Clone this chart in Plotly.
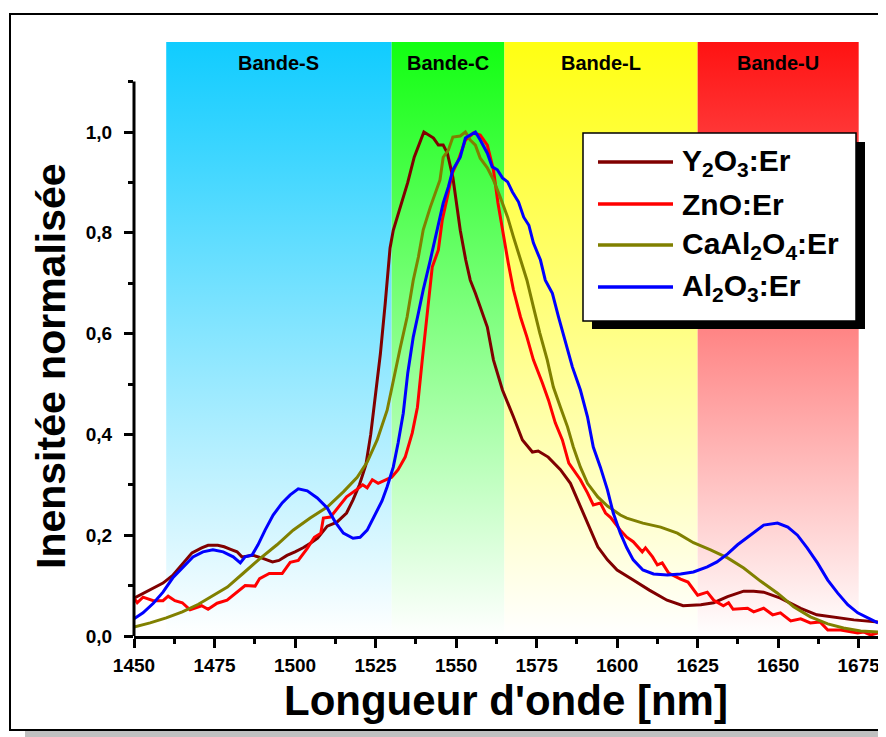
'''
Emission spectra of Er-doped hosts over the telecom bands
'''

import plotly.graph_objects as go

FONT = 'Liberation Sans, Arial, sans-serif'

# telecom bands (nm) and their colours
BAND_NAMES = ['Bande-S', 'Bande-C', 'Bande-L', 'Bande-U']
BAND_START = [1460, 1530, 1565, 1625]
BAND_END = [1530, 1565, 1625, 1675]
BAND_COLORS = ['#10CCFF', '#12FF12', '#FFFF12', '#FF1212']

SERIES_NAMES = ['Y<sub>2</sub>O<sub>3</sub>:Er', 'ZnO:Er', 'CaAl<sub>2</sub>O<sub>4</sub>:Er',
                'Al<sub>2</sub>O<sub>3</sub>:Er']
SERIES_COLORS = ['#800000', '#FF0000', '#808000', '#0000FF']

Y2O3_X = [1450, 1453, 1456, 1459, 1462, 1464, 1466, 1468, 1471, 1473, 1476, 1478, 1480, 1482, 1483.5,
          1485, 1487, 1490, 1493, 1495, 1497.5, 1500, 1502.5, 1505, 1507, 1510, 1513, 1516, 1518, 1520,
          1522, 1523.5, 1525, 1526.5, 1528, 1529.5, 1530.5, 1533, 1535, 1537, 1540, 1543, 1544.5, 1546,
          1547.3, 1549, 1550.4, 1551.3, 1553, 1554.4, 1556, 1557.5, 1559.7, 1561.6, 1564.4, 1567.8,
          1570.6, 1573.7, 1575.5, 1578.6, 1582.4, 1585.5, 1588.6, 1591.7, 1594, 1597, 1600, 1605, 1610,
          1615.5, 1620.5, 1626, 1630, 1634.3, 1639.3, 1642.4, 1645.5, 1650.7, 1657, 1662, 1667, 1673.5,
          1681]
Y2O3_Y = [0.075, 0.085, 0.095, 0.105, 0.12, 0.135, 0.15, 0.165, 0.175, 0.18, 0.18, 0.177, 0.172, 0.167,
          0.157, 0.158, 0.16, 0.154, 0.147, 0.15, 0.16, 0.167, 0.175, 0.185, 0.194, 0.218, 0.226, 0.244,
          0.27, 0.30, 0.34, 0.40, 0.48, 0.56, 0.66, 0.77, 0.805, 0.86, 0.90, 0.95, 1.0, 0.988, 0.974,
          0.974, 0.958, 0.91, 0.85, 0.805, 0.746, 0.706, 0.68, 0.653, 0.613, 0.548, 0.488, 0.435, 0.389,
          0.365, 0.367, 0.355, 0.33, 0.303, 0.256, 0.21, 0.177, 0.151, 0.131, 0.111, 0.091, 0.071, 0.06,
          0.062, 0.066, 0.078, 0.089, 0.089, 0.087, 0.075, 0.055, 0.042, 0.037, 0.032, 0.028]

ZNO_X = [1450, 1451, 1452.8, 1456, 1459, 1460.6, 1462.7, 1465, 1467.4, 1469.6, 1471, 1473, 1475.8,
         1478.9, 1482, 1484.5, 1487.6, 1489, 1492, 1496, 1498.5, 1501, 1503.8, 1506, 1508, 1508.8, 1511,
         1513, 1516, 1519, 1521, 1522.4, 1524, 1525.8, 1528.6, 1530, 1532, 1534.2, 1536.4, 1538, 1539.5,
         1541, 1542.6, 1544.5, 1545.7, 1547.3, 1548.8, 1550.7, 1552.9, 1555.4, 1557.5, 1559.7, 1561.6,
         1563, 1564.7, 1566.2, 1567.8, 1570, 1572, 1574, 1576.8, 1578.7, 1580.8, 1583, 1585, 1588.6,
         1590.8, 1592.6, 1594.8, 1596.4, 1598, 1601, 1603, 1605, 1607.8, 1608.8, 1611, 1612.5, 1614, 1616,
         1619.7, 1622, 1625, 1628, 1630, 1633, 1634.6, 1636, 1640.5, 1642.4, 1645.5, 1648.3, 1650.7,
         1653.9, 1657, 1660, 1663, 1665.4, 1669.4, 1674.7, 1676.5, 1678.7, 1681]
ZNO_Y = [0.075, 0.066, 0.077, 0.07, 0.07, 0.079, 0.07, 0.066, 0.052, 0.056, 0.06, 0.053, 0.065, 0.071,
         0.087, 0.1, 0.099, 0.114, 0.124, 0.124, 0.146, 0.15, 0.174, 0.196, 0.204, 0.234, 0.236, 0.252,
         0.276, 0.29, 0.30, 0.294, 0.31, 0.303, 0.31, 0.315, 0.33, 0.355, 0.403, 0.454, 0.548, 0.64,
         0.732, 0.766, 0.825, 0.871, 0.918, 0.944, 0.984, 0.998, 0.994, 0.974, 0.925, 0.859, 0.792,
         0.74, 0.687, 0.633, 0.593, 0.548, 0.502, 0.468, 0.423, 0.389, 0.343, 0.31, 0.284, 0.26, 0.264,
         0.244, 0.235, 0.21, 0.196, 0.187, 0.167, 0.175, 0.157, 0.141, 0.145, 0.125, 0.113, 0.107, 0.081,
         0.087, 0.071, 0.06, 0.066, 0.053, 0.055, 0.048, 0.055, 0.042, 0.046, 0.03, 0.034, 0.026, 0.028,
         0.012, 0.012, 0.006, 0.008, 0.002, 0.006]

CAAL2O4_X = [1450, 1455, 1460, 1465, 1470, 1474, 1479, 1484, 1489, 1494.4, 1499.4, 1504.7, 1510, 1515,
             1519.3, 1522.4, 1525.5, 1528.6, 1530.5, 1532.7, 1534.8, 1536.7, 1538.3, 1539.8, 1542,
             1543.5, 1545, 1546, 1547.6, 1549, 1551.3, 1552.9, 1554.4, 1556, 1557.5, 1559.7, 1561.6,
             1563.7, 1566, 1567.8, 1570, 1572, 1574, 1576, 1578.3, 1580.2, 1582.4, 1584.6, 1586.4,
             1588.6, 1590.8, 1594, 1597, 1601, 1603, 1608, 1613.5, 1618.7, 1623.7, 1629, 1634.3, 1639.3,
             1644.5, 1649.8, 1654.8, 1660, 1665.4, 1670.3, 1675.6, 1681]
CAAL2O4_Y = [0.018, 0.026, 0.036, 0.048, 0.063, 0.078, 0.097, 0.125, 0.153, 0.181, 0.21, 0.234, 0.256,
             0.286, 0.315, 0.345, 0.389, 0.448, 0.508, 0.573, 0.633, 0.706, 0.752, 0.806, 0.851, 0.879,
             0.905, 0.95, 0.964, 0.99, 0.992, 1.0, 0.984, 0.974, 0.948, 0.929, 0.905, 0.871, 0.831, 0.792,
             0.746, 0.706, 0.653, 0.601, 0.548, 0.494, 0.454, 0.415, 0.375, 0.335, 0.303, 0.276, 0.258,
             0.24, 0.234, 0.224, 0.216, 0.204, 0.185, 0.171, 0.155, 0.135, 0.109, 0.085, 0.058, 0.038,
             0.024, 0.016, 0.01, 0.008]

AL2O3_X = [1450, 1452.8, 1456, 1459, 1462, 1465.2, 1468.3, 1471.4, 1474.5, 1477.7, 1480.8, 1483, 1484.5,
           1486.7, 1488.5, 1490.7, 1493.2, 1496, 1498.5, 1501, 1503.8, 1506.9, 1510, 1512.5, 1515, 1518,
           1520.2, 1522.4, 1524.9, 1527, 1528.6, 1530.5, 1532, 1533.6, 1535, 1536.7, 1538.3, 1539.8, 1542,
           1544.2, 1546, 1547.6, 1549, 1551.3, 1552.9, 1554.4, 1556, 1557.5, 1559.7, 1561.2, 1562.8,
           1564.4, 1566, 1567.5, 1569.4, 1571, 1572.6, 1574, 1576.2, 1577.7, 1579.9, 1581.8, 1584, 1586.1,
           1588.6, 1590.8, 1592.6, 1594.8, 1597, 1598.8, 1601, 1603, 1605, 1608, 1611.3, 1615.6, 1619.7,
           1623.7, 1628, 1631, 1634.3, 1637.4, 1640.5, 1643.6, 1645.5, 1649.8, 1653, 1656, 1659, 1662.2,
           1665.4, 1668.5, 1671.6, 1674.7, 1677.8, 1681]
AL2O3_Y = [0.034, 0.046, 0.065, 0.087, 0.115, 0.137, 0.157, 0.167, 0.171, 0.167, 0.157, 0.145, 0.157,
           0.161, 0.181, 0.21, 0.24, 0.264, 0.28, 0.292, 0.288, 0.274, 0.254, 0.226, 0.204, 0.194, 0.196,
           0.21, 0.24, 0.268, 0.296, 0.335, 0.383, 0.442, 0.522, 0.593, 0.641, 0.687, 0.746, 0.806, 0.859,
           0.891, 0.925, 0.95, 0.988, 0.994, 1.0, 0.984, 0.958, 0.931, 0.925, 0.909, 0.901, 0.881, 0.861,
           0.831, 0.815, 0.78, 0.746, 0.706, 0.68, 0.633, 0.581, 0.534, 0.488, 0.435, 0.375, 0.335, 0.29,
           0.244, 0.204, 0.175, 0.151, 0.131, 0.123, 0.121, 0.123, 0.127, 0.137, 0.147, 0.163, 0.181,
           0.196, 0.21, 0.22, 0.224, 0.216, 0.2, 0.175, 0.145, 0.111, 0.085, 0.062, 0.046, 0.036, 0.026]

SERIES_X = [Y2O3_X, ZNO_X, CAAL2O4_X, AL2O3_X]
SERIES_Y = [Y2O3_Y, ZNO_Y, CAAL2O4_Y, AL2O3_Y]

X_RANGE = [1450, 1681]
Y_TOP = 1.1786  # top of the plot area, bands reach it
Y_AXIS_END = 1.1

# the page adds an 8px body margin, so the figure is a bit smaller than the window
OFF = 8
W, H = 886 - OFF, 737 - OFF
ML, MR, MT, MB = 134 - OFF, 8, 42 - OFF, 101


def px(x):
    '''window pixel x -> paper x'''
    return (x - OFF - ML) / (W - ML - MR)


def py(y):
    '''window pixel y -> paper y'''
    return (H - MB - (y - OFF)) / (H - MT - MB)


fig = go.Figure()

for name, x0, x1, color in zip(BAND_NAMES, BAND_START, BAND_END, BAND_COLORS):
    fig.add_trace(go.Scatter(
        x=[x0, x1, x1, x0, x0], y=[0, 0, Y_TOP, Y_TOP, 0], mode='none', fill='toself',
        fillgradient=dict(type='vertical', start=0, stop=Y_TOP,
                          colorscale=[[0, 'rgba(255,255,255,1)'], [1, color]]),
        hoverinfo='skip', showlegend=False))
    fig.add_annotation(x=(x0 + x1) / 2, y=1.137, text=name, showarrow=False, yanchor='middle',
                       font=dict(family=FONT, size=20, color='black', weight='bold'))

for name, xs, ys, color in zip(SERIES_NAMES, SERIES_X, SERIES_Y, SERIES_COLORS):
    fig.add_trace(go.Scatter(x=xs, y=ys, mode='lines', name=name, showlegend=False,
                             line=dict(color=color, width=3)))

shapes = [
    # page frame with its grey shadow
    dict(type='rect', xref='paper', yref='paper', x0=px(25), x1=px(910), y0=py(745), y1=py(22),
         fillcolor='#C0C0C0', line=dict(width=0), layer='below'),
    dict(type='rect', xref='paper', yref='paper', x0=px(10), x1=px(892), y0=py(730), y1=py(14),
         fillcolor='white', line=dict(color='black', width=2), layer='below'),
    # left axis line, ends at 1.1
    dict(type='line', xref='paper', yref='paper', x0=0, x1=0, y0=0, y1=py(636 - Y_AXIS_END * 504),
         line=dict(color='black', width=3)),
    # legend box with shadow
    dict(type='rect', xref='paper', yref='paper', x0=px(592), x1=px(865), y0=py(329), y1=py(142),
         fillcolor='black', line=dict(width=0)),
    dict(type='rect', xref='paper', yref='paper', x0=px(583), x1=px(856), y0=py(321), y1=py(133),
         fillcolor='white', line=dict(color='black', width=1.5)),
]
rows = [162, 204, 245, 287]
for row, name, color in zip(rows, SERIES_NAMES, SERIES_COLORS):
    shapes.append(dict(type='line', xref='paper', yref='paper', x0=px(598), x1=px(673),
                       y0=py(row), y1=py(row), line=dict(color=color, width=3.5)))
    fig.add_annotation(xref='paper', yref='paper', x=px(680), y=py(row), text=name, showarrow=False,
                       xanchor='left', yanchor='middle',
                       font=dict(family=FONT, size=30, color='black', weight='bold'))

# axis titles
fig.add_annotation(xref='paper', yref='paper', x=px(506), y=py(700), text="Longueur d'onde [nm]",
                   showarrow=False, xanchor='center', yanchor='middle', borderpad=0,
                   font=dict(family=FONT, size=42, color='black', weight='bold'))
fig.add_annotation(xref='paper', yref='paper', x=px(51), y=py(366), text='Inensitée normalisée',
                   showarrow=False, textangle=-90, xanchor='center', yanchor='middle',
                   font=dict(family=FONT, size=41, color='black', weight='bold'))

fig.update_layout(
    width=W, height=H, margin=dict(l=ML, r=MR, t=MT, b=MB, autoexpand=False),
    paper_bgcolor='white', plot_bgcolor='rgba(0,0,0,0)', separators=',.',
    shapes=shapes, showlegend=False,
    xaxis=dict(range=X_RANGE, dtick=25, tick0=1450, showgrid=False, zeroline=False,
               showline=True, linecolor='black', linewidth=3,
               ticks='outside', ticklen=9, tickwidth=2.5, tickcolor='black', ticklabelstandoff=1,
               minor=dict(dtick=12.5, ticks='outside', ticklen=5, tickwidth=2.5, tickcolor='black'),
               tickfont=dict(family=FONT, size=19, color='black', weight='bold')),
    yaxis=dict(range=[0, Y_TOP], dtick=0.2, tick0=0, tickformat='.1f', showgrid=False,
               zeroline=False, showline=False,
               ticks='outside', ticklen=9, tickwidth=2.5, tickcolor='black', ticklabelstandoff=8,
               minor=dict(dtick=0.1, ticks='outside', ticklen=5, tickwidth=2.5, tickcolor='black'),
               tickfont=dict(family=FONT, size=19, color='black', weight='bold')),
)

fig.write_html('out.html')
